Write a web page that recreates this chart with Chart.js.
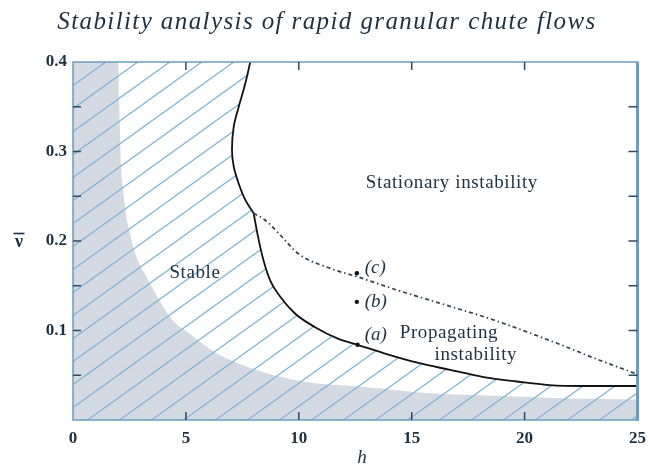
<!DOCTYPE html>
<html>
<head>
<meta charset="utf-8">
<script src="https://cdn.jsdelivr.net/npm/chart.js@4/dist/chart.umd.min.js"></script>
<style>
  html, body { margin: 0; padding: 0; background: #fff; }
  canvas { display: block; }
</style>
</head>
<body>
<canvas id="stabilityChart" width="654" height="476"></canvas>
<script>
// grey (hatched) corner region, bounded by the axes
const greyH  = [0, 2.0, 2.05, 2.1, 2.25, 2.59, 2.81, 3.25, 3.82, 4.39, 5.14, 6.33, 7.78, 9.23, 10.72, 12.9, 15.8, 18.8, 22, 25];
const greyNu = [0.4, 0.4, 0.35, 0.3, 0.25, 0.201, 0.182, 0.160, 0.134, 0.112, 0.097, 0.075, 0.059, 0.048, 0.041, 0.037, 0.030, 0.027, 0.024, 0.023];

// neutral curve, upper branch (stationary) down to the junction
const upperH  = [7.85, 7.63, 7.34, 7.12, 7.04, 7.12, 7.34, 7.63, 8.0];
const upperNu = [0.4, 0.376, 0.350, 0.328, 0.302, 0.283, 0.264, 0.246, 0.231];

// neutral curve, lower branch (propagating) from the junction
const lowerH  = [8.0, 8.2, 8.43, 8.73, 9.17, 9.83, 10.7, 11.73, 12.6, 13.78, 15.25, 16.7, 18.18, 19.64, 21.1, 22.57, 25];
const lowerNu = [0.231, 0.204, 0.179, 0.156, 0.138, 0.119, 0.104, 0.091, 0.084, 0.0745, 0.064, 0.056, 0.048, 0.043, 0.039, 0.038, 0.038];

// dash-dot boundary between stationary and propagating instability
const dashH  = [8.0, 8.5, 9.24, 9.97, 11.44, 12.6, 14.37, 16.7, 18.6, 21.1, 23.3, 24.9];
const dashNu = [0.231, 0.2235, 0.205, 0.186, 0.169, 0.160, 0.145, 0.127, 0.112, 0.089, 0.067, 0.052];

// marked cases (a), (b), (c)
const caseNames = ['(a)', '(b)', '(c)'];
const caseH  = [12.6, 12.57, 12.57];
const caseNu = [0.084, 0.132, 0.164];

const xTickValues = [0, 5, 10, 15, 20, 25];
const yTickValues = [0.1, 0.2, 0.3, 0.4];

const toPts = (xs, ys) => xs.map((x, i) => ({ x: x, y: ys[i] }));

// hatched region = everything left of / under the solid neutral curve
const hatchPts = [{ x: 0, y: 0.4 }].concat(toPts(upperH, upperNu), toPts(lowerH.slice(1), lowerNu.slice(1)));

// diagonal hatch pattern
function makeHatch() {
  const w = 32, h = 23;
  const c = document.createElement('canvas');
  c.width = w; c.height = h;
  const g = c.getContext('2d');
  g.strokeStyle = '#7fb3d3';
  g.lineWidth = 1.3;
  g.beginPath();
  g.moveTo(0, h); g.lineTo(w, 0);
  g.moveTo(-w, h); g.lineTo(w, -h);
  g.moveTo(0, 2 * h); g.lineTo(2 * w, 0);
  g.stroke();
  return g.createPattern(c, 'repeat');
}

const ink = '#1d3140';
const frameColor = '#6e9dbf';

const decorPlugin = {
  id: 'decor',
  afterDatasetsDraw(chart) {
    const ctx = chart.ctx;
    const a = chart.chartArea;
    const xs = chart.scales.x, ys = chart.scales.y;
    ctx.save();

    // frame
    ctx.strokeStyle = frameColor;
    ctx.lineWidth = 1.5;
    ctx.strokeRect(a.left, a.top, a.right - a.left, a.bottom - a.top);
    ctx.lineWidth = 3;
    ctx.beginPath();
    ctx.moveTo(a.right, a.top); ctx.lineTo(a.right, a.bottom + 1);
    ctx.stroke();

    // inward tick marks on all four sides
    ctx.strokeStyle = '#2f4b5e';
    ctx.lineWidth = 1.5;
    ctx.beginPath();
    [5, 10, 15, 20].forEach(v => {
      const px = xs.getPixelForValue(v);
      ctx.moveTo(px, a.bottom); ctx.lineTo(px, a.bottom - 8);
      ctx.moveTo(px, a.top); ctx.lineTo(px, a.top + 8);
    });
    [0.05, 0.1, 0.15, 0.2, 0.25, 0.3, 0.35].forEach(v => {
      const py = ys.getPixelForValue(v);
      ctx.moveTo(a.left, py); ctx.lineTo(a.left + 8, py);
      ctx.moveTo(a.right, py); ctx.lineTo(a.right - 9, py);
    });
    ctx.stroke();

    // title
    ctx.fillStyle = ink;
    ctx.textAlign = 'center';
    ctx.textBaseline = 'middle';
    ctx.font = 'italic 25px "Liberation Serif"';
    ctx.letterSpacing = '1.4px';
    ctx.fillText('Stability analysis of rapid granular chute flows', 327, 22);
    ctx.letterSpacing = '0px';

    // axis names
    ctx.font = 'italic 19px "Liberation Serif"';
    ctx.fillText('h', 362, 458);
    ctx.font = 'bold 18px "Liberation Serif"';
    ctx.fillText('\u03bd', 19, 242);
    ctx.strokeStyle = ink;
    ctx.lineWidth = 1.6;
    ctx.beginPath();
    ctx.moveTo(13.5, 233.5); ctx.lineTo(24.5, 233.5);
    ctx.stroke();

    // region labels
    const at = (h, nu) => [xs.getPixelForValue(h), ys.getPixelForValue(nu)];
    ctx.font = '19px "Liberation Serif"';
    ctx.letterSpacing = '0.6px';
    let p = at(16.78, 0.265); ctx.fillText('Stationary instability', p[0], p[1]);
    p = at(5.4, 0.164); ctx.fillText('Stable', p[0], p[1]);
    p = at(16.65, 0.097); ctx.fillText('Propagating', p[0], p[1]);
    p = at(17.84, 0.0725); ctx.fillText('instability', p[0], p[1]);
    ctx.letterSpacing = '0px';

    // case labels
    ctx.textAlign = 'left';
    ctx.font = 'italic 19px "Liberation Serif"';
    const labelNu = [0.095, 0.132, 0.170];
    caseNames.forEach((name, i) => {
      const q = at(12.92, labelNu[i]);
      ctx.fillText(name, q[0], q[1]);
    });
    ctx.restore();
  }
};

new Chart(document.getElementById('stabilityChart'), {
  type: 'line',
  data: {
    datasets: [
      {
        label: 'cases',
        data: toPts(caseH, caseNu),
        showLine: false,
        pointRadius: 2.2,
        pointBackgroundColor: '#111',
        pointBorderWidth: 0
      },
      {
        label: 'dash-dot',
        data: toPts(dashH, dashNu),
        borderColor: '#2e4252',
        borderWidth: 1.7,
        borderDash: [4, 3, 1.5, 3],
        pointRadius: 0,
        cubicInterpolationMode: 'monotone',
        fill: false
      },
      {
        label: 'upper',
        data: toPts(upperH, upperNu),
        borderColor: '#121212',
        borderWidth: 1.8,
        pointRadius: 0,
        tension: 0.35,
        fill: false
      },
      {
        label: 'lower',
        data: toPts(lowerH, lowerNu),
        borderColor: '#121212',
        borderWidth: 1.8,
        pointRadius: 0,
        cubicInterpolationMode: 'monotone',
        fill: false
      },
      {
        label: 'hatch',
        data: hatchPts,
        borderWidth: 0,
        borderColor: 'rgba(0,0,0,0)',
        backgroundColor: makeHatch(),
        pointRadius: 0,
        tension: 0.3,
        fill: 'origin'
      },
      {
        label: 'grey',
        data: toPts(greyH, greyNu),
        borderWidth: 0,
        borderColor: 'rgba(0,0,0,0)',
        backgroundColor: '#d4dae1',
        pointRadius: 0,
        cubicInterpolationMode: 'monotone',
        fill: 'origin'
      }
    ]
  },
  options: {
    responsive: false,
    animation: false,
    layout: { padding: { top: 62, right: 12, left: 0, bottom: 0 } },
    plugins: {
      legend: { display: false },
      tooltip: { enabled: false },
      title: { display: false }
    },
    scales: {
      x: {
        type: 'linear',
        min: 0,
        max: 25,
        afterFit: s => { s.height = 56; },
        afterBuildTicks: s => { s.ticks = xTickValues.map(v => ({ value: v })); },
        ticks: {
          padding: 8,
          color: ink,
          maxRotation: 0,
          autoSkip: false,
          font: { family: 'Liberation Serif', size: 17, weight: 'bold' }
        },
        grid: { drawOnChartArea: false, drawTicks: false },
        border: { display: false }
      },
      y: {
        type: 'linear',
        min: 0,
        max: 0.4,
        afterFit: s => { s.width = 73; },
        afterBuildTicks: s => { s.ticks = yTickValues.map(v => ({ value: v })); },
        ticks: {
          padding: 6,
          color: ink,
          autoSkip: false,
          callback: v => v.toFixed(1),
          font: { family: 'Liberation Serif', size: 17, weight: 'bold' }
        },
        grid: { drawOnChartArea: false, drawTicks: false },
        border: { display: false }
      }
    }
  },
  plugins: [decorPlugin]
});
</script>
</body>
</html>
